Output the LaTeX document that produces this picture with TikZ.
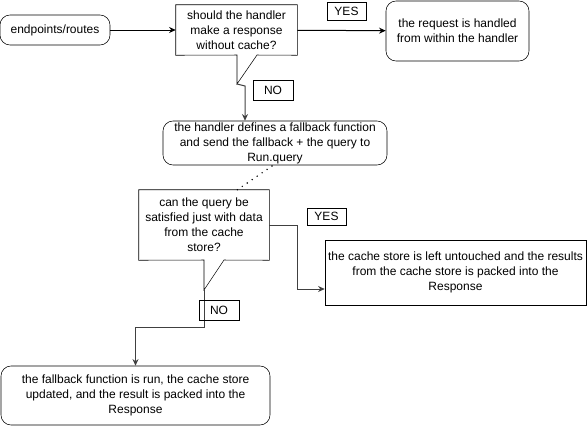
\documentclass[tikz,border=0pt]{standalone}
\usepackage{fontspec}
\setmainfont{Liberation Sans}
\usepackage{tikz}
\usetikzlibrary{arrows.meta}

\tikzset{
  txt/.style={align=center,inner sep=0pt,font=\fontsize{9}{11.25}\selectfont},
  rbox/.style={txt,draw,rounded corners=7.5pt},
  sbox/.style={txt,draw},
  tag/.style={txt,draw},
  link/.style={arrows={-Stealth[length=5pt,width=4.5pt]},line width=0.75pt},
}

\begin{document}
\begin{tikzpicture}[x=0.75pt,y=-0.75pt]
%\draw[help lines](0,0)grid[step=50](587,426);
\useasboundingbox(0,0)rectangle(587,426);

% boxes
\node[rbox,minimum width=82.5pt,minimum height=22.5pt](routes)at(55,30){endpoints/routes};
\node[txt,minimum width=90.75pt,minimum height=37.5pt](askA)at(236.5,30){should the handler\\make a response\\without cache?};
\node[rbox,minimum width=107.25pt,minimum height=45pt](inside)at(457.5,31){the request is handled\\from within the handler};
\node[rbox,minimum width=168pt,minimum height=33pt](handler)at(275,143){the handler defines a fallback function\\and send the fallback + the query to\\Run.query};
\node[txt,minimum width=97.5pt,minimum height=52.5pt](askB)at(204,225){can the query be\\satisfied just with data\\from the cache\\store?};
\node[sbox,minimum width=195.75pt,minimum height=48.75pt](cache)at(455.5,272.5){the cache store is left untouched and the results\\from the cache store is packed into the\\Response};
\node[rbox,minimum width=201.75pt,minimum height=44.25pt](fallback)at(135.5,395.5){the fallback function is run, the cache store\\updated, and the result is packed into the\\Response};

% callout outlines
\coordinate(tipA)at(237,84);
\coordinate(tipB)at(204,290);
\draw(askA.north west)--(askA.north east)--(askA.south east)--(257,55)--(tipA)--(237,55)--(askA.south west)--cycle;
\draw(askB.north west)--(askB.north east)--(askB.south east)--(224,260)--(tipB)--(204,260)--(askB.south west)--cycle;

% connectors
\coordinate(bendA)at(245,86);
\coordinate(bendB)at(204,327);
\coordinate(bendC)at(297,289);
\coordinate(dotA)at(272,166);
\coordinate(dotB)at(237,190);
\draw[link](routes)--(askA);
\draw[link](askA)--(inside);
\draw[link,black!75](tipA)--(bendA)--(bendA|-handler.north);
\draw[line width=1.2pt,line cap=round,dash pattern=on 0pt off 4.5pt](dotA)--(dotB);
\draw[link,black!75](askB.east)-|(bendC)--(bendC-|cache.west);
\draw[link,black!75](tipB)--(bendB)-|(fallback.north);

% labels
\node[tag,minimum width=30pt,minimum height=15pt](noA)at(273,90){NO};
\node[tag,minimum width=29.25pt,minimum height=13.5pt](yesA)at(346.5,11){YES};
\node[tag,minimum width=29.25pt,minimum height=12.75pt](yesB)at(326.5,216.5){YES};
\node[tag,minimum width=30pt,minimum height=15pt](noB)at(219,310){NO};
\end{tikzpicture}
\end{document}
